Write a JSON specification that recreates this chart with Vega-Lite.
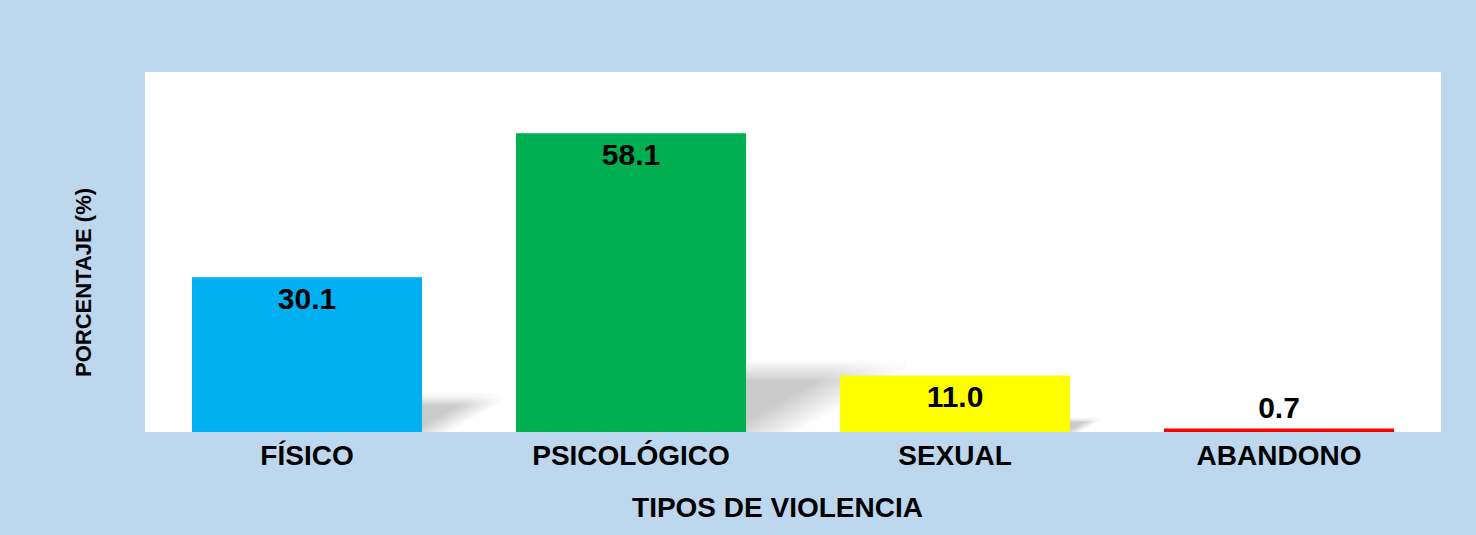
{
  "$schema": "https://vega.github.io/schema/vega-lite/v6.json",
  "autosize": {"type": "none"},
  "padding": {"left": 145, "top": 72, "right": 35, "bottom": 103},
  "width": 1296,
  "height": 360,
  "background": "#BDD7EE",
  "config": {
    "view": {"fill": "white", "stroke": null},
    "font": "Liberation Sans"
  },
  "data": {
    "values": [
      {"tipo": "FÍSICO", "pct": 30.1},
      {"tipo": "PSICOLÓGICO", "pct": 58.1},
      {"tipo": "SEXUAL", "pct": 11.0},
      {"tipo": "ABANDONO", "pct": 0.7}
    ]
  },
  "layer": [
    {
      "mark": {
        "type": "bar",
        "xOffset": 115,
        "color": {
          "gradient": "linear",
          "x1": 0, "y1": 0, "x2": 1, "y2": 0.4,
          "stops": [
            {"offset": 0, "color": "#c9c9c9"},
            {"offset": 0.72, "color": "#cbcbcb"},
            {"offset": 0.92, "color": "#ffffff"}
          ]
        }
      },
      "encoding": {
        "x": {
          "field": "tipo", "type": "nominal",
          "sort": ["FÍSICO", "PSICOLÓGICO", "SEXUAL", "ABANDONO"],
          "scale": {"paddingInner": 0.29, "paddingOuter": 0.145},
          "axis": {
            "title": "TIPOS DE VIOLENCIA",
            "labelAngle": 0,
            "labelLimit": 0,
            "labelFont": "Liberation Sans",
            "labelFontWeight": "bold",
            "labelFontSize": 28,
            "labelColor": "#000000",
            "labelBaseline": "middle",
            "labelPadding": 24,
            "ticks": false,
            "domain": false,
            "grid": false,
            "titleFont": "Liberation Sans",
            "titleFontWeight": "bold",
            "titleFontSize": 28,
            "titleColor": "#000000",
            "titlePadding": 24,
            "titleX": 632
          }
        },
        "y": {
          "field": "pct", "type": "quantitative",
          "scale": {"domain": [0, 290]},
          "axis": null
        },
        "size": {
          "field": "pct", "type": "quantitative",
          "scale": {"domain": [0, 70], "range": [0, 385], "zero": true},
          "legend": null
        }
      }
    },
    {
      "mark": {
        "type": "bar",
        "xOffset": 115,
        "color": {
          "gradient": "linear",
          "x1": 0, "y1": 0, "x2": 0, "y2": 1,
          "stops": [
            {"offset": 0, "color": "rgba(255,255,255,1)"},
            {"offset": 0.3, "color": "rgba(255,255,255,0)"},
            {"offset": 1, "color": "rgba(255,255,255,0)"}
          ]
        }
      },
      "encoding": {
        "x": {"field": "tipo", "type": "nominal", "sort": ["FÍSICO", "PSICOLÓGICO", "SEXUAL", "ABANDONO"]},
        "y": {"field": "pct", "type": "quantitative", "scale": {"domain": [0, 290]}, "axis": null},
        "size": {
          "field": "pct", "type": "quantitative",
          "scale": {"domain": [0, 70], "range": [0, 385], "zero": true},
          "legend": null
        }
      }
    },
    {
      "mark": {"type": "bar"},
      "encoding": {
        "x": {"field": "tipo", "type": "nominal", "sort": ["FÍSICO", "PSICOLÓGICO", "SEXUAL", "ABANDONO"]},
        "y": {
          "field": "pct", "type": "quantitative",
          "scale": {"domain": [0, 70]},
          "axis": {
            "title": "PORCENTAJE (%)",
            "labels": false,
            "ticks": false,
            "domain": false,
            "grid": false,
            "titleFont": "Liberation Sans",
            "titleFontWeight": "bold",
            "titleFontSize": 22,
            "titleColor": "#000000",
            "titlePadding": 50,
            "titleY": 210
          }
        },
        "color": {
          "field": "tipo", "type": "nominal",
          "scale": {
            "domain": ["FÍSICO", "PSICOLÓGICO", "SEXUAL", "ABANDONO"],
            "range": ["#00B0F0", "#00AF50", "#FFFF00", "#FF0000"]
          },
          "legend": null
        }
      }
    },
    {
      "transform": [{"filter": "datum.pct >= 5"}],
      "mark": {"type": "text", "baseline": "middle", "dy": 23, "font": "Liberation Sans", "fontWeight": "bold", "fontSize": 30, "color": "#000000"},
      "encoding": {
        "x": {"field": "tipo", "type": "nominal", "sort": ["FÍSICO", "PSICOLÓGICO", "SEXUAL", "ABANDONO"]},
        "y": {"field": "pct", "type": "quantitative", "scale": {"domain": [0, 70]}, "axis": null},
        "text": {"field": "pct", "type": "quantitative", "format": ".1f"}
      }
    },
    {
      "transform": [{"filter": "datum.pct < 5"}],
      "mark": {"type": "text", "baseline": "middle", "dy": -19, "font": "Liberation Sans", "fontWeight": "bold", "fontSize": 30, "color": "#000000"},
      "encoding": {
        "x": {"field": "tipo", "type": "nominal", "sort": ["FÍSICO", "PSICOLÓGICO", "SEXUAL", "ABANDONO"]},
        "y": {"field": "pct", "type": "quantitative", "scale": {"domain": [0, 70]}, "axis": null},
        "text": {"field": "pct", "type": "quantitative", "format": ".1f"}
      }
    }
  ],
  "resolve": {"scale": {"y": "independent", "size": "independent"}}
}
